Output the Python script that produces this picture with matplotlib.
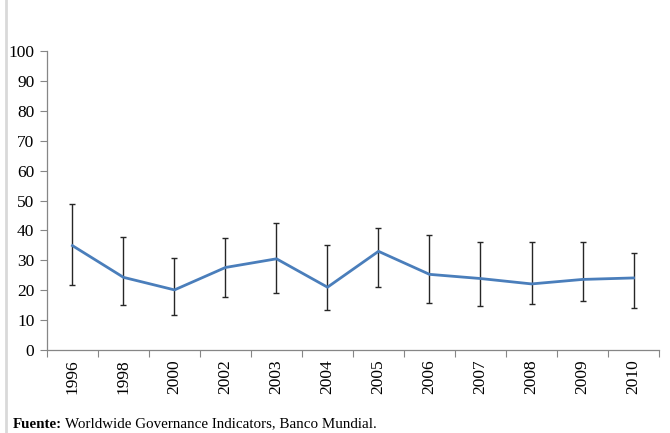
import matplotlib
matplotlib.use("Agg")
import matplotlib.pyplot as plt
import numpy as np
from matplotlib.lines import Line2D

# Indicador por año con intervalo (límite inferior / superior)
years = ["1996", "1998", "2000", "2002", "2003", "2004",
         "2005", "2006", "2007", "2008", "2009", "2010"]
value = [34.9, 24.3, 20.1, 27.6, 30.5, 21.0, 33.0, 25.3, 23.9, 22.1, 23.6, 24.1]
lower = [21.8, 15.2, 11.8, 17.6, 19.0, 13.3, 21.0, 15.6, 14.6, 15.3, 16.5, 14.0]
upper = [48.8, 37.9, 30.9, 37.6, 42.4, 35.0, 40.9, 38.5, 36.0, 36.2, 36.2, 32.5]

plt.rcParams['font.family'] = ['Liberation Serif', 'DejaVu Serif']

fig = plt.figure(figsize=(6.7, 4.33), dpi=100)
ax = fig.add_axes([0.0701, 0.1917, 0.9135, 0.6905])

x = np.arange(len(years))
v = np.array(value)
err = [v - np.array(lower), np.array(upper) - v]

ax.errorbar(x, v, yerr=err, fmt='none', ecolor='#262626', elinewidth=1.0,
            capsize=2.2, capthick=1.0, zorder=2)
ax.plot(x, v, color='#4a7ebb', linewidth=2.0, zorder=3)

ax.set_xlim(-0.5, len(years) - 0.5)
ax.set_ylim(0, 100)
ax.set_yticks(range(0, 101, 10))
ax.tick_params(axis='y', length=5, width=0.8, color='#868686', labelsize=12.5, pad=4)

# ticks on category boundaries, labels centred
ax.set_xticks(np.arange(-0.5, len(years), 1.0))
ax.set_xticklabels([])
ax.set_xticks(x, minor=True)
ax.set_xticklabels(years, minor=True, rotation=90, fontsize=12.5)
ax.tick_params(axis='x', which='major', length=5, width=0.8, color='#868686')
ax.tick_params(axis='x', which='minor', length=0, pad=7)

for s in ['top', 'right']:
    ax.spines[s].set_visible(False)
for s in ['left', 'bottom']:
    ax.spines[s].set_color('#868686')
    ax.spines[s].set_linewidth(0.9)

# page border on the left
fig.add_artist(Line2D([6 / 670, 6 / 670], [0, 1], color='#d9d9d9', linewidth=2.0))

# source note
ynote = 1 - 424 / 433
t1 = fig.text(13 / 670, ynote, "Fuente:", fontsize=10.8, va='center', fontweight='bold')
fig.canvas.draw()
bb = t1.get_window_extent()
fig.text((bb.x1 + 3) / 670, ynote, "Worldwide Governance Indicators, Banco Mundial.",
         fontsize=10.8, va='center')

fig.savefig("out.png", dpi=100)
